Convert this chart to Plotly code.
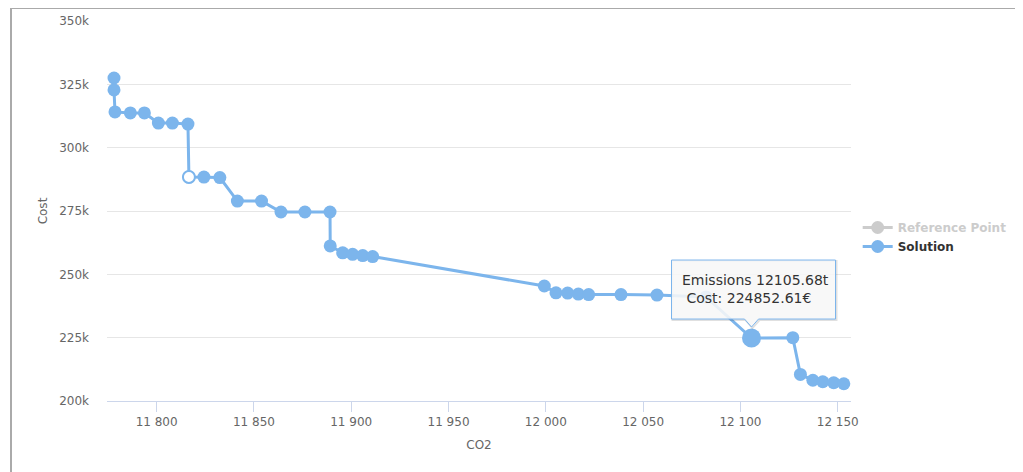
import plotly.graph_objects as go

# ---- data ----
co2 = [11778.1, 11778.1, 11778.6, 11786.5, 11793.7, 11800.9, 11808.1, 11816.1,
       11816.6, 11824.3, 11832.5, 11841.5, 11853.9, 11863.9, 11876.2, 11889.1,
       11889.2, 11895.6, 11900.7, 11905.9, 11911.0, 11999.2, 12005.2, 12011.2,
       12016.7, 12022.0, 12038.6, 12057.1, 12082.3, 12105.68, 12126.9, 12130.8,
       12137.2, 12142.3, 12147.9, 12153.1]
cost = [327500, 322800, 314100, 313700, 313700, 309700, 309700, 309300,
        288400, 288400, 288200, 278900, 278900, 274600, 274600, 274600,
        261200, 258500, 257900, 257400, 257000, 245400, 242700, 242600,
        242200, 242000, 242000, 241800, 241100, 224852.61, 225000, 210500,
        208200, 207600, 207200, 206800]

ref_co2 = []
ref_cost = []

selected_index = 8       # hollow (selected) point
hover_index = 29         # point with the tooltip

x_tick_vals = [11800, 11850, 11900, 11950, 12000, 12050, 12100, 12150]
x_tick_text = ["11 800", "11 850", "11 900", "11 950", "12 000", "12 050", "12 100", "12 150"]
y_tick_vals = [200000, 225000, 250000, 275000, 300000, 325000, 350000]
y_tick_text = ["200k", "225k", "250k", "275k", "300k", "325k", "350k"]

BLUE = "#7cb5ec"
FONT = "DejaVu Sans"

# plot area placement (screen pixels) and page offset of the browser
PL, PT, PW, PH = 106, 20, 744, 380
OFF = 7

fig = go.Figure()

fig.add_trace(go.Scatter(
    x=ref_co2 if ref_co2 else [None], y=ref_cost if ref_cost else [None],
    mode="lines+markers", name="<span style='color:#cccccc'>Reference Point</span>",
    line=dict(color="#cccccc", width=3),
    marker=dict(color="#cccccc", size=13),
    hoverinfo="skip",
))

fig.add_trace(go.Scatter(
    x=co2, y=cost, mode="lines+markers", name="Solution",
    line=dict(color=BLUE, width=3),
    marker=dict(color=BLUE, size=13, line=dict(width=0)),
    hoverinfo="skip",
))

# selected (hollow) point
fig.add_trace(go.Scatter(
    x=[co2[selected_index]], y=[cost[selected_index]], mode="markers",
    marker=dict(color="white", size=12, line=dict(color=BLUE, width=2)),
    showlegend=False, hoverinfo="skip",
))

# hovered (enlarged) point
fig.add_trace(go.Scatter(
    x=[co2[hover_index]], y=[cost[hover_index]], mode="markers",
    marker=dict(color=BLUE, size=19),
    showlegend=False, hoverinfo="skip",
))

hx, hy = co2[hover_index], cost[hover_index]

# tooltip callout (pixel sized, anchored at the hovered point) with a soft shadow
callout = "M -80,19 L -7,19 L 0,11 L 7,19 L 84,19 L 84,78 L -80,78 Z"
shadow = "M -79,18 L -6,18 L 1,10 L 8,18 L 85,18 L 85,77 L -79,77 Z"
fig.add_shape(
    type="path", xref="x", yref="y", xsizemode="pixel", ysizemode="pixel",
    xanchor=hx, yanchor=hy, path=shadow,
    fillcolor="rgba(0,0,0,0)", line=dict(color="rgba(0,0,0,0.12)", width=2),
    layer="above",
)
fig.add_shape(
    type="path", xref="x", yref="y", xsizemode="pixel", ysizemode="pixel",
    xanchor=hx, yanchor=hy, path=callout,
    fillcolor="rgba(247,247,247,0.88)", line=dict(color=BLUE, width=1),
    layer="above",
)
fig.add_annotation(
    x=hx, y=hy, xref="x", yref="y", showarrow=False,
    text=f"Emissions {hx:.2f}t<br> Cost: {hy:.2f}€",
    font=dict(family=FONT, size=14, color="#333333"),
    align="left", yshift=49, xshift=4,
)

# outer frame
fig.add_shape(type="rect", xref="paper", yref="paper",
              x0=(10 - PL) / PW, x1=(1017 - PL) / PW,
              y0=(PT + PH - 490) / PH, y1=(PT + PH - 7) / PH,
              line=dict(color="#aaaaaa", width=2), fillcolor="rgba(0,0,0,0)",
              layer="below")

fig.update_layout(
    width=1023, height=472,
    margin=dict(l=PL - OFF, r=1023 - (PL - OFF) - PW, t=PT - OFF,
                b=472 - (PT - OFF) - PH, autoexpand=False),
    paper_bgcolor="white", plot_bgcolor="white",
    font=dict(family=FONT, size=12, color="#666666"),
    showlegend=True,
    legend=dict(x=1.009, y=(PT + PH - 212) / PH, xanchor="left", yanchor="top",
                font=dict(family=FONT, size=12, color="#333333", weight="bold"),
                bgcolor="rgba(0,0,0,0)", itemwidth=30, tracegroupgap=2),
    xaxis=dict(range=[11774.5, 12156.8], tickvals=x_tick_vals, ticktext=x_tick_text,
               showgrid=False, zeroline=False, showline=True, linecolor="#ccd6eb",
               linewidth=1, ticks="outside", ticklen=10, tickcolor="#ccd6eb",
               tickfont=dict(family=FONT, size=12, color="#666666"),
               title=dict(text="CO2", font=dict(family=FONT, size=12, color="#666666"),
                          standoff=12)),
    yaxis=dict(range=[200000, 350000], tickvals=y_tick_vals, ticktext=y_tick_text,
               showgrid=True, gridcolor="#e6e6e6", gridwidth=1, zeroline=False,
               showline=False, ticklabelstandoff=17,
               tickfont=dict(family=FONT, size=12, color="#666666"),
               title=dict(text="Cost", font=dict(family=FONT, size=12, color="#666666"),
                          standoff=8)),
)

fig.write_html("out.html")
